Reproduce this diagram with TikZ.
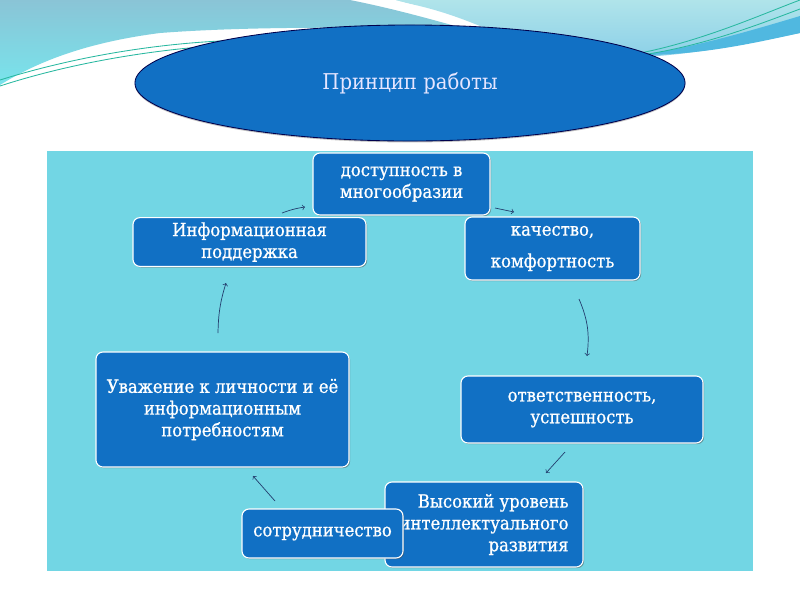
\documentclass[tikz,border=0pt]{standalone}
\usepackage{fontspec}
\setmainfont{DejaVu Serif Condensed}
\newfontfamily\boxfont[FakeBold=0.8]{DejaVu Serif Condensed}
\usetikzlibrary{shapes.geometric,shadows}
\definecolor{boxblue}{RGB}{17,112,196}
\definecolor{panelcyan}{RGB}{114,214,228}
\definecolor{arrownavy}{RGB}{35,62,110}
\definecolor{tealtop}{RGB}{138,196,214}
\definecolor{tealbot}{RGB}{120,228,236}
\definecolor{skytop}{RGB}{176,228,234}
\definecolor{skybot}{RGB}{140,208,232}
\definecolor{bandblue}{RGB}{80,184,224}
\definecolor{linegreen}{RGB}{40,184,160}
\tikzset{
	blockbox/.style={draw=white, line width=0.8pt, fill=boxblue, rounded corners=5pt, text=white, align=center, font=\boxfont\fontsize{13}{15.5}\selectfont, drop shadow={shadow xshift=0.8pt, shadow yshift=-0.8pt, fill=black!70, opacity=0.5}},
	flowarrow/.style={->, draw=arrownavy, line width=0.5pt},
}
\begin{document}
\begin{tikzpicture}[x=0.025cm, y=-0.025cm]
		\useasboundingbox (0,0) rectangle (800,600);
		\fill[white] (0,0) rectangle (800,600);
		% waves at the top
		\shade[top color=skytop, bottom color=skybot] (390,0) -- (800,0) -- (800,33) .. controls (740,45) and (690,55) .. (640,57) .. controls (560,52) and (510,38) .. (475,24) .. controls (445,12) and (420,5) .. (390,0) -- cycle;
		\fill[bandblue] (800,16) .. controls (740,34) and (690,48) .. (640,55) .. controls (700,55) and (750,44) .. (800,33) -- cycle;
		\shade[top color=tealtop, bottom color=tealbot] (0,0) -- (350,0) .. controls (400,10) and (440,22) .. (470,30) .. controls (380,27) and (250,26) .. (160,33) .. controls (90,42) and (40,60) .. (0,85) -- cycle;
		\fill[white] (355,0) .. controls (400,8) and (440,18) .. (475,26) .. controls (440,12) and (410,4) .. (395,0) -- cycle;
		\draw[linegreen, line width=0.6pt] (0,80) .. controls (80,55) and (180,38) .. (280,40);
		\draw[linegreen, line width=0.6pt] (0,86) .. controls (80,60) and (180,44) .. (280,43);
		\draw[linegreen, line width=0.6pt] (635,54) .. controls (700,42) and (760,15) .. (800,0);
		\draw[linegreen, line width=0.6pt] (648,54) .. controls (710,44) and (765,22) .. (800,9);
		% title
		\node[ellipse, draw=black!70!blue, line width=0.6pt, fill=boxblue, minimum width=13.75cm, minimum height=2.9cm, text=white!90!blue, font=\fontsize{15.5}{18}\selectfont, drop shadow={shadow xshift=0pt, shadow yshift=-1pt, fill=black!60, opacity=0.4}] (title) at (410,83) {Принцип работы};
		% panel
		\fill[panelcyan] (47,151) rectangle (753,571);
		% boxes
		\node[blockbox, minimum width=4.425cm, minimum height=1.55cm] (access) at (401.5,184) {доступность в\\многообразии};
		\node[blockbox, minimum width=4.375cm, minimum height=1.575cm] (quality) at (552.5,248.5) {качество,\\[7pt]комфортность};
		\node[blockbox, minimum width=5.825cm, minimum height=1.2cm] (info) at (249.5,242) {Информационная\\поддержка};
		\node[blockbox, minimum width=6.325cm, minimum height=2.875cm] (respect) at (222.5,409.5) {Уважение к личности и её\\информационным\\потребностям};
		\node[blockbox, minimum width=6.05cm, minimum height=1.675cm] (duty) at (582,409.5) {ответственность,\\успешность};
		\node[blockbox, align=right, minimum width=4.95cm, minimum height=2.125cm] (level) at (484,524.5) {Высокий уровень\\интеллектуального\\развития};
		\node[blockbox, minimum width=4.025cm, minimum height=1.225cm] (team) at (322.5,533.5) {сотрудничество};
		% arrows
		\coordinate (a1s) at (282,213);
		\coordinate (a1e) at (305,207);
		\coordinate (a2s) at (495,208);
		\coordinate (a2e) at (514,212);
		\coordinate (a3s) at (579,299);
		\coordinate (a3e) at (587,356);
		\coordinate (a4s) at (565,452);
		\coordinate (a4e) at (546,473);
		\coordinate (a5s) at (275,501);
		\coordinate (a5e) at (253,476);
		\coordinate (a6s) at (218,333);
		\coordinate (a6e) at (226,283);
		\draw[flowarrow] (a1s) to[bend left=6] (a1e);
		\draw[flowarrow] (a2s) -- (a2e);
		\draw[flowarrow] (a3s) to[bend left=15] (a3e);
		\draw[flowarrow] (a4s) -- (a4e);
		\draw[flowarrow] (a5s) -- (a5e);
		\draw[flowarrow] (a6s) to[bend left=8] (a6e);
	\end{tikzpicture}
\end{document}
